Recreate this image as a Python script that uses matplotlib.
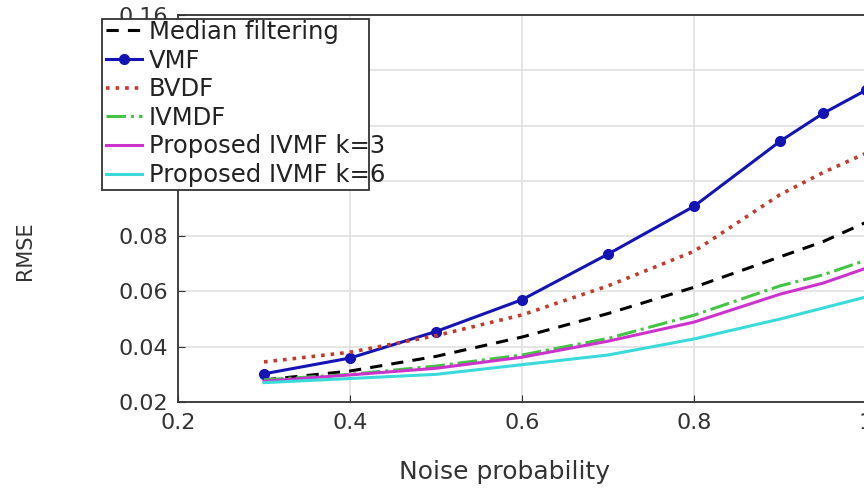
import matplotlib.pyplot as plt
from matplotlib.patches import Rectangle
import numpy as np

plt.rcParams['font.family'] = ['DejaVu Sans']

noise = [0.3, 0.4, 0.5, 0.6, 0.7, 0.8, 0.9, 0.95, 1.0]

median_filt = [0.0280, 0.0312, 0.0365, 0.0435, 0.0520, 0.0615, 0.0725, 0.0780, 0.0850]
vmf = [0.0302, 0.0359, 0.0455, 0.0570, 0.0735, 0.0908, 0.1143, 0.1244, 0.1328]
bvdf = [0.0345, 0.0380, 0.0440, 0.0515, 0.0620, 0.0745, 0.0950, 0.1030, 0.1100]
ivmdf = [0.0280, 0.0300, 0.0330, 0.0370, 0.0430, 0.0514, 0.0620, 0.0660, 0.0713]
ivmf_k3 = [0.0275, 0.0298, 0.0322, 0.0362, 0.0420, 0.0489, 0.0590, 0.0630, 0.0684]
ivmf_k6 = [0.0270, 0.0285, 0.0300, 0.0335, 0.0370, 0.0428, 0.0500, 0.0540, 0.0580]

W, H = 864, 491
fig = plt.figure(figsize=(W / 100, H / 100), dpi=100)
ax = fig.add_axes([178 / W, 1 - 402 / H, 688 / W, 387 / H])

ax.plot(noise, median_filt, '--', color='black', lw=2.2, dashes=(4, 3), label='Median filtering')
ax.plot(noise, vmf, '-o', color='#1414b4', lw=2.2, ms=7, label='VMF')
ax.plot(noise, bvdf, ':', color='#c23b2e', lw=2.6, label='BVDF')
ax.plot(noise, ivmdf, '-.', color='#44c444', lw=2.2, label='IVMDF')
ax.plot(noise, ivmf_k3, '-', color='#cc33cc', lw=2.2, label='Proposed IVMF k=3')
ax.plot(noise, ivmf_k6, '-', color='#3adada', lw=2.2, label='Proposed IVMF k=6')

ax.set_xlim(0.2, 1.0)
ax.set_ylim(0.02, 0.16)
ax.set_xticks(np.arange(0.2, 1.01, 0.2))
ax.set_xticklabels(['0.2', '0.4', '0.6', '0.8', '1'])
ax.set_yticks(np.arange(0.02, 0.161, 0.02))
ax.set_yticklabels(['0.02', '0.04', '0.06', '0.08', '0.1', '0.12', '0.14', '0.16'])
ax.tick_params(direction='in', length=5, labelsize=16, colors='#333333')
ax.tick_params(axis='y', pad=7)
ax.tick_params(axis='x', pad=8)
ax.grid(True, color='#e0e0e0', lw=1.2)
ax.set_axisbelow(True)
for s in ax.spines.values():
    s.set_linewidth(1.3)
    s.set_color('#333333')

ax.set_xlabel('Noise probability', fontsize=18, color='#333333')
ax.xaxis.set_label_coords(0.475, -0.15)
ax.set_ylabel('RMSE', fontsize=15, color='#333333')
ax.yaxis.set_label_coords(-0.208, 0.39)

# legend box drawn separately, text runs past its right edge as in the original
box = Rectangle((102 / W, 1 - 190 / H), 267 / W, 171 / H, transform=fig.transFigure,
                facecolor='white', edgecolor='#333333', lw=1.3, zorder=3)
fig.patches.append(box)
fig.legend(loc='upper left', bbox_to_anchor=(106 / W, 1 - 20 / H), fontsize=17.5,
           frameon=False, handlelength=1.5, handletextpad=0.25, borderpad=0,
           labelspacing=0.19, borderaxespad=0, labelcolor='#222222')

fig.savefig('out.png', dpi=100)
